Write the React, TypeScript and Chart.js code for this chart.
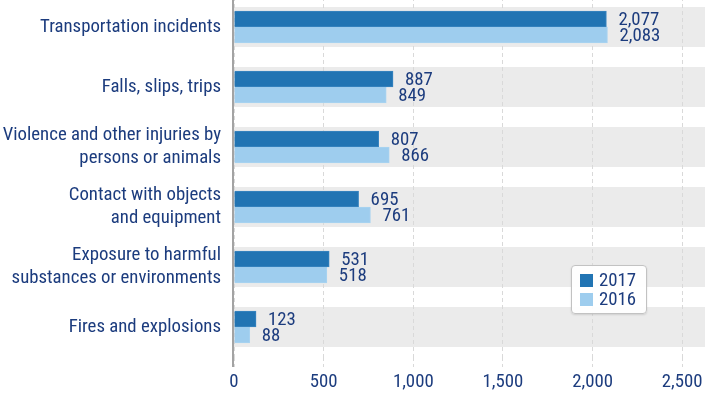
import React, { useEffect, useRef } from "react";
import { Chart, registerables } from "chart.js";
Chart.register(...registerables);

const categories: (string | string[])[] = [
  "Transportation incidents",
  "Falls, slips, trips",
  ["Violence and other injuries by", "persons or animals"],
  ["Contact with objects", "and equipment"],
  ["Exposure to harmful", "substances or environments"],
  "Fires and explosions",
];
const seriesNames = ["2017", "2016"];
const values2017 = [2077, 887, 807, 695, 531, 123];
const values2016 = [2083, 849, 866, 761, 518, 88];
const xTickValues = [0, 500, 1000, 1500, 2000, 2500];
const xMax = 2627;

const DARK = "#2174b3";
const LIGHT = "#9ecdee";
const TEXT = "#1c3c7e";
const BAND = "#ebebeb";
const GRID = "#d9d9d9";
const FONT = "'Roboto Condensed', 'DejaVu Sans Condensed', sans-serif";
const FSIZE = 18.8;

const bandPlugin = {
  id: "bands",
  beforeDraw(chart: any) {
    const { ctx, chartArea, scales } = chart;
    const y = scales.y;
    ctx.save();
    ctx.fillStyle = BAND;
    for (let i = 0; i < categories.length; i++) {
      const c = y.getPixelForValue(i);
      ctx.fillRect(chartArea.left, c - 20, chartArea.right - chartArea.left, 40);
    }
    ctx.restore();
  },
};

const axisLinePlugin = {
  id: "axisLine",
  afterDatasetsDraw(chart: any) {
    const { ctx, chartArea } = chart;
    ctx.save();
    ctx.strokeStyle = "#a3a3a3";
    ctx.lineWidth = 2;
    ctx.beginPath();
    ctx.moveTo(chartArea.left - 1, chartArea.top);
    ctx.lineTo(chartArea.left - 1, chartArea.bottom + 10);
    ctx.stroke();
    ctx.restore();
  },
};

const valueLabelPlugin = {
  id: "valueLabels",
  afterDatasetsDraw(chart: any) {
    const { ctx } = chart;
    ctx.save();
    ctx.font = `${FSIZE}px ${FONT}`;
    ctx.fillStyle = TEXT;
    ctx.textAlign = "left";
    ctx.textBaseline = "middle";
    chart.data.datasets.forEach((ds: any, di: number) => {
      const meta = chart.getDatasetMeta(di);
      meta.data.forEach((bar: any, i: number) => {
        const v = ds.data[i] as number;
        ctx.fillText(v.toLocaleString("en-US"), bar.x + 12, bar.y + 1);
      });
    });
    ctx.restore();
  },
};

export default function App() {
  const ref = useRef<HTMLCanvasElement>(null);
  useEffect(() => {
    if (!ref.current) return;
    const chart = new Chart(ref.current, {
      type: "bar",
      data: {
        labels: categories as any,
        datasets: [
          { label: seriesNames[0], data: values2017, backgroundColor: DARK, borderColor: "#3a86c0", borderWidth: 1, barThickness: 16 },
          { label: seriesNames[1], data: values2016, backgroundColor: LIGHT, borderColor: "#a9d3f0", borderWidth: 1, barThickness: 16 },
        ],
      },
      options: {
        indexAxis: "y",
        responsive: false,
        animation: false,
        devicePixelRatio: 1,
        layout: { padding: 0 },
        plugins: { legend: { display: false }, tooltip: { enabled: false } },
        scales: {
          x: {
            type: "linear",
            min: 0,
            max: xMax,
            afterBuildTicks: (scale: any) => {
              scale.ticks = xTickValues.map((v) => ({ value: v }));
            },
            afterFit: (scale: any) => {
              scale.height = 38;
              scale.paddingLeft = 0;
              scale.paddingRight = 0;
            },
            grid: {
              color: GRID,
              lineWidth: 1,
              drawTicks: true,
              tickLength: 10,
              tickColor: GRID,
              tickBorderDash: [4, 3],
            },
            border: { display: false, dash: [4, 3] },
            ticks: {
              color: TEXT,
              font: { family: FONT, size: FSIZE },
              padding: 4,
              maxRotation: 0,
              callback: (v: any) => Number(v).toLocaleString("en-US"),
            },
          },
          y: {
            type: "category",
            offset: true,
            afterFit: (scale: any) => {
              scale.width = 234;
              scale.paddingTop = 0;
              scale.paddingBottom = 0;
            },
            grid: { display: false, drawTicks: false },
            border: { display: false },
            ticks: {
              color: TEXT,
              font: { family: FONT, size: FSIZE, lineHeight: 1.22 },
              padding: 13,
            },
          },
        },
      },
      plugins: [bandPlugin, axisLinePlugin, valueLabelPlugin],
    });
    return () => chart.destroy();
  }, []);

  return (
    <>
      <div style={{ position: "absolute", left: 0, top: -3, width: 705, height: 398 }}>
        <canvas ref={ref} width={705} height={398} style={{ display: "block" }} />
      </div>
      <div
        style={{
          position: "absolute",
          left: 571,
          top: 265,
          width: 76,
          height: 49,
          boxSizing: "border-box",
          border: "1px solid #c2c2c2",
          borderRadius: 4,
          background: "rgba(255,255,255,0.92)",
          boxShadow: "0 1px 2px rgba(0,0,0,0.12)",
          fontFamily: FONT,
          fontSize: FSIZE,
          color: TEXT,
        }}
      >
        {seriesNames.map((n, i) => (
          <div key={n} style={{ position: "absolute", left: 8, top: 5 + i * 19, height: 19, display: "flex", alignItems: "center" }}>
            <span style={{ display: "inline-block", width: 13, height: 13, background: i === 0 ? DARK : LIGHT, marginRight: 6 }} />
            <span style={{ lineHeight: "19px" }}>{n}</span>
          </div>
        ))}
      </div>
    </>
  );
}
